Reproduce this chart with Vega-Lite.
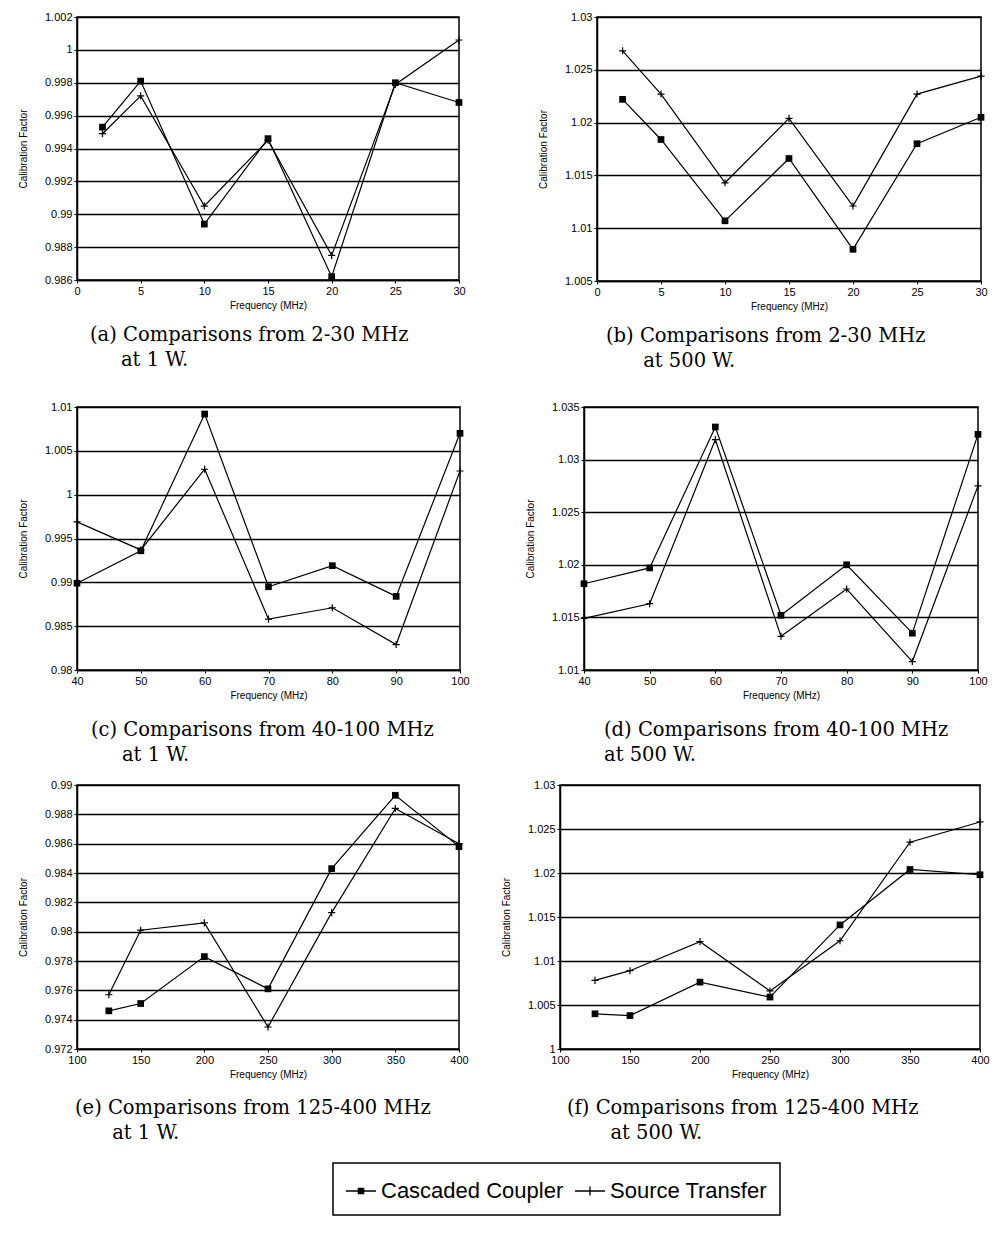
{
  "$schema": "https://vega.github.io/schema/vega-lite/v6.json",
  "background": "white",
  "padding": {"left": 17, "top": 10, "right": 5, "bottom": 5},
  "datasets": {
    "a": [
      {"f": 2, "v": 0.9953, "s": "Cascaded Coupler"}, {"f": 5, "v": 0.9981, "s": "Cascaded Coupler"}, {"f": 10, "v": 0.9894, "s": "Cascaded Coupler"}, {"f": 15, "v": 0.9946, "s": "Cascaded Coupler"}, {"f": 20, "v": 0.9862, "s": "Cascaded Coupler"}, {"f": 25, "v": 0.998, "s": "Cascaded Coupler"}, {"f": 30, "v": 0.9968, "s": "Cascaded Coupler"},
      {"f": 2, "v": 0.9949, "s": "Source Transfer"}, {"f": 5, "v": 0.9972, "s": "Source Transfer"}, {"f": 10, "v": 0.9905, "s": "Source Transfer"}, {"f": 15, "v": 0.9945, "s": "Source Transfer"}, {"f": 20, "v": 0.9875, "s": "Source Transfer"}, {"f": 25, "v": 0.9979, "s": "Source Transfer"}, {"f": 30, "v": 1.0006, "s": "Source Transfer"}
    ],
    "b": [
      {"f": 2, "v": 1.0222, "s": "Cascaded Coupler"}, {"f": 5, "v": 1.0184, "s": "Cascaded Coupler"}, {"f": 10, "v": 1.0107, "s": "Cascaded Coupler"}, {"f": 15, "v": 1.0166, "s": "Cascaded Coupler"}, {"f": 20, "v": 1.008, "s": "Cascaded Coupler"}, {"f": 25, "v": 1.018, "s": "Cascaded Coupler"}, {"f": 30, "v": 1.0205, "s": "Cascaded Coupler"},
      {"f": 2, "v": 1.0268, "s": "Source Transfer"}, {"f": 5, "v": 1.0227, "s": "Source Transfer"}, {"f": 10, "v": 1.0143, "s": "Source Transfer"}, {"f": 15, "v": 1.0204, "s": "Source Transfer"}, {"f": 20, "v": 1.0121, "s": "Source Transfer"}, {"f": 25, "v": 1.0227, "s": "Source Transfer"}, {"f": 30, "v": 1.0244, "s": "Source Transfer"}
    ],
    "c": [
      {"f": 40, "v": 0.9899, "s": "Cascaded Coupler"}, {"f": 50, "v": 0.9936, "s": "Cascaded Coupler"}, {"f": 60, "v": 1.0092, "s": "Cascaded Coupler"}, {"f": 70, "v": 0.9895, "s": "Cascaded Coupler"}, {"f": 80, "v": 0.9919, "s": "Cascaded Coupler"}, {"f": 90, "v": 0.9884, "s": "Cascaded Coupler"}, {"f": 100, "v": 1.007, "s": "Cascaded Coupler"},
      {"f": 40, "v": 0.9969, "s": "Source Transfer"}, {"f": 50, "v": 0.9937, "s": "Source Transfer"}, {"f": 60, "v": 1.0029, "s": "Source Transfer"}, {"f": 70, "v": 0.9858, "s": "Source Transfer"}, {"f": 80, "v": 0.9871, "s": "Source Transfer"}, {"f": 90, "v": 0.9829, "s": "Source Transfer"}, {"f": 100, "v": 1.0027, "s": "Source Transfer"}
    ],
    "d": [
      {"f": 40, "v": 1.0182, "s": "Cascaded Coupler"}, {"f": 50, "v": 1.0197, "s": "Cascaded Coupler"}, {"f": 60, "v": 1.0331, "s": "Cascaded Coupler"}, {"f": 70, "v": 1.0152, "s": "Cascaded Coupler"}, {"f": 80, "v": 1.02, "s": "Cascaded Coupler"}, {"f": 90, "v": 1.0135, "s": "Cascaded Coupler"}, {"f": 100, "v": 1.0324, "s": "Cascaded Coupler"},
      {"f": 40, "v": 1.0149, "s": "Source Transfer"}, {"f": 50, "v": 1.0163, "s": "Source Transfer"}, {"f": 60, "v": 1.0319, "s": "Source Transfer"}, {"f": 70, "v": 1.0132, "s": "Source Transfer"}, {"f": 80, "v": 1.0177, "s": "Source Transfer"}, {"f": 90, "v": 1.0108, "s": "Source Transfer"}, {"f": 100, "v": 1.0275, "s": "Source Transfer"}
    ],
    "e": [
      {"f": 125, "v": 0.9746, "s": "Cascaded Coupler"}, {"f": 150, "v": 0.9751, "s": "Cascaded Coupler"}, {"f": 200, "v": 0.9783, "s": "Cascaded Coupler"}, {"f": 250, "v": 0.9761, "s": "Cascaded Coupler"}, {"f": 300, "v": 0.9843, "s": "Cascaded Coupler"}, {"f": 350, "v": 0.9893, "s": "Cascaded Coupler"}, {"f": 400, "v": 0.9858, "s": "Cascaded Coupler"},
      {"f": 125, "v": 0.9757, "s": "Source Transfer"}, {"f": 150, "v": 0.9801, "s": "Source Transfer"}, {"f": 200, "v": 0.9806, "s": "Source Transfer"}, {"f": 250, "v": 0.9735, "s": "Source Transfer"}, {"f": 300, "v": 0.9813, "s": "Source Transfer"}, {"f": 350, "v": 0.9884, "s": "Source Transfer"}, {"f": 400, "v": 0.986, "s": "Source Transfer"}
    ],
    "f": [
      {"f": 125, "v": 1.004, "s": "Cascaded Coupler"}, {"f": 150, "v": 1.0038, "s": "Cascaded Coupler"}, {"f": 200, "v": 1.0076, "s": "Cascaded Coupler"}, {"f": 250, "v": 1.0059, "s": "Cascaded Coupler"}, {"f": 300, "v": 1.0141, "s": "Cascaded Coupler"}, {"f": 350, "v": 1.0204, "s": "Cascaded Coupler"}, {"f": 400, "v": 1.0198, "s": "Cascaded Coupler"},
      {"f": 125, "v": 1.0078, "s": "Source Transfer"}, {"f": 150, "v": 1.0089, "s": "Source Transfer"}, {"f": 200, "v": 1.0122, "s": "Source Transfer"}, {"f": 250, "v": 1.0066, "s": "Source Transfer"}, {"f": 300, "v": 1.0123, "s": "Source Transfer"}, {"f": 350, "v": 1.0235, "s": "Source Transfer"}, {"f": 400, "v": 1.0258, "s": "Source Transfer"}
    ]
  },
  "config": {
    "view": {"stroke": "black", "strokeWidth": 1.5},
    "axis": {
      "labelFont": "Liberation Sans", "labelFontSize": 11, "labelColor": "black", "labelFlush": false, "labelOverlap": false,
      "titleFont": "Liberation Sans", "titleFontSize": 10, "titleFontWeight": "normal", "titleColor": "black",
      "domainColor": "black", "domainWidth": 1.5, "tickColor": "black", "tickSize": 3, "tickWidth": 1, "labelPadding": 2,
      "gridColor": "black", "gridWidth": 1.5, "gridOpacity": 1
    },
    "axisX": {"grid": false, "titlePadding": 4},
    "axisY": {"grid": true, "titlePadding": 16},
    "title": {"font": "DejaVu Serif", "fontSize": 19.5, "fontWeight": "normal", "color": "black", "orient": "bottom", "anchor": "start", "frame": "group", "lineHeight": 25},
    "legend": {
      "orient": "none", "legendX": 256, "legendY": 1146, "direction": "horizontal", "title": null,
      "strokeColor": "black", "strokeWidth": 1.5, "padding": 13,
      "labelFont": "Liberation Sans", "labelFontSize": 22, "labelColor": "black", "labelLimit": 400, "labelOffset": 5,
      "symbolSize": 900, "symbolOpacity": 1, "symbolStrokeWidth": 0, "symbolFillColor": "black", "columnPadding": 11
    }
  },
  "resolve": {"scale": {"x": "independent", "y": "independent"}},
  "spacing": 28,
  "vconcat": [
    {
      "bounds": "flush", "spacing": 138,
      "resolve": {"scale": {"x": "independent", "y": "independent"}},
      "hconcat": [
        {
          "width": 382, "height": 263, "data": {"name": "a"},
          "title": {"text": ["(a) Comparisons from 2-30 MHz", "\u200b\u00a0\u00a0\u00a0\u00a0\u00a0at 1 W."], "dx": 13, "offset": 16},
          "encoding": {
            "x": {"field": "f", "type": "quantitative", "scale": {"domain": [0, 30], "nice": false, "zero": false}, "axis": {"values": [0, 5, 10, 15, 20, 25, 30], "title": "Frequency (MHz)"}},
            "y": {"field": "v", "type": "quantitative", "scale": {"domain": [0.986, 1.002], "nice": false, "zero": false}, "axis": {"values": [0.986, 0.988, 0.99, 0.992, 0.994, 0.996, 0.998, 1, 1.002], "labelExpr": "format(datum.value, '.4~f')", "title": "Calibration Factor"}}
          },
          "layer": [
            {"mark": {"type": "line", "color": "black", "strokeWidth": 1.2}, "encoding": {"detail": {"field": "s"}}},
            {"transform": [{"filter": "datum.s === 'Cascaded Coupler'"}], "mark": {"type": "point", "shape": "square", "filled": true, "color": "black", "size": 45, "opacity": 1}},
            {"transform": [{"filter": "datum.s === 'Source Transfer'"}], "mark": {"type": "point", "shape": "M-1,0H1M0,-1V1", "filled": false, "color": "black", "strokeWidth": 1.2, "size": 50, "opacity": 1}},
            {"mark": {"type": "point", "filled": true, "color": "black", "size": 45, "opacity": 0},
             "encoding": {"shape": {"field": "s", "type": "nominal", "scale": {"domain": ["Cascaded Coupler", "Source Transfer"], "range": ["M-1,-0.045H1V0.045H-1ZM-0.22,-0.22H0.22V0.22H-0.22Z", "M-1,-0.045H1V0.045H-1ZM-0.045,-0.3H0.045V0.3H-0.045Z"]}}}}
          ]
        },
        {
          "width": 384, "height": 264, "data": {"name": "b"},
          "title": {"text": ["(b) Comparisons from 2-30 MHz", "\u200b\u00a0\u00a0\u00a0\u00a0\u00a0\u00a0at 500 W."], "dx": 9, "offset": 16},
          "encoding": {
            "x": {"field": "f", "type": "quantitative", "scale": {"domain": [0, 30], "nice": false, "zero": false}, "axis": {"values": [0, 5, 10, 15, 20, 25, 30], "title": "Frequency (MHz)"}},
            "y": {"field": "v", "type": "quantitative", "scale": {"domain": [1.005, 1.03], "nice": false, "zero": false}, "axis": {"values": [1.005, 1.01, 1.015, 1.02, 1.025, 1.03], "labelExpr": "format(datum.value, '.4~f')", "title": "Calibration Factor"}}
          },
          "layer": [
            {"mark": {"type": "line", "color": "black", "strokeWidth": 1.2}, "encoding": {"detail": {"field": "s"}}},
            {"transform": [{"filter": "datum.s === 'Cascaded Coupler'"}], "mark": {"type": "point", "shape": "square", "filled": true, "color": "black", "size": 45, "opacity": 1}},
            {"transform": [{"filter": "datum.s === 'Source Transfer'"}], "mark": {"type": "point", "shape": "M-1,0H1M0,-1V1", "filled": false, "color": "black", "strokeWidth": 1.2, "size": 50, "opacity": 1}},
            {"mark": {"type": "point", "filled": true, "color": "black", "size": 45, "opacity": 0},
             "encoding": {"shape": {"field": "s", "type": "nominal", "scale": {"domain": ["Cascaded Coupler", "Source Transfer"], "range": ["M-1,-0.045H1V0.045H-1ZM-0.22,-0.22H0.22V0.22H-0.22Z", "M-1,-0.045H1V0.045H-1ZM-0.045,-0.3H0.045V0.3H-0.045Z"]}}}}
          ]
        }
      ]
    },
    {
      "spacing": 12,
      "resolve": {"scale": {"x": "independent", "y": "independent"}},
      "vconcat": [
        {
          "bounds": "flush", "spacing": 124,
          "resolve": {"scale": {"x": "independent", "y": "independent"}},
          "hconcat": [
            {
              "width": 383, "height": 263, "data": {"name": "c"},
              "title": {"text": ["(c) Comparisons from 40-100 MHz", "\u200b\u00a0\u00a0\u00a0\u00a0\u00a0at 1 W."], "dx": 14, "offset": 21},
              "encoding": {
                "x": {"field": "f", "type": "quantitative", "scale": {"domain": [40, 100], "nice": false, "zero": false}, "axis": {"values": [40, 50, 60, 70, 80, 90, 100], "title": "Frequency (MHz)"}},
                "y": {"field": "v", "type": "quantitative", "scale": {"domain": [0.98, 1.01], "nice": false, "zero": false}, "axis": {"values": [0.98, 0.985, 0.99, 0.995, 1, 1.005, 1.01], "labelExpr": "format(datum.value, '.4~f')", "title": "Calibration Factor"}}
              },
              "layer": [
                {"mark": {"type": "line", "color": "black", "strokeWidth": 1.2}, "encoding": {"detail": {"field": "s"}}},
                {"transform": [{"filter": "datum.s === 'Cascaded Coupler'"}], "mark": {"type": "point", "shape": "square", "filled": true, "color": "black", "size": 45, "opacity": 1}},
                {"transform": [{"filter": "datum.s === 'Source Transfer'"}], "mark": {"type": "point", "shape": "M-1,0H1M0,-1V1", "filled": false, "color": "black", "strokeWidth": 1.2, "size": 50, "opacity": 1}},
                {"mark": {"type": "point", "filled": true, "color": "black", "size": 45, "opacity": 0},
                 "encoding": {"shape": {"field": "s", "type": "nominal", "scale": {"domain": ["Cascaded Coupler", "Source Transfer"], "range": ["M-1,-0.045H1V0.045H-1ZM-0.22,-0.22H0.22V0.22H-0.22Z", "M-1,-0.045H1V0.045H-1ZM-0.045,-0.3H0.045V0.3H-0.045Z"]}}}}
              ]
            },
            {
              "width": 394, "height": 263, "data": {"name": "d"},
              "title": {"text": ["(d) Comparisons from 40-100 MHz", "at 500 W."], "dx": 20, "offset": 21},
              "encoding": {
                "x": {"field": "f", "type": "quantitative", "scale": {"domain": [40, 100], "nice": false, "zero": false}, "axis": {"values": [40, 50, 60, 70, 80, 90, 100], "title": "Frequency (MHz)"}},
                "y": {"field": "v", "type": "quantitative", "scale": {"domain": [1.01, 1.035], "nice": false, "zero": false}, "axis": {"values": [1.01, 1.015, 1.02, 1.025, 1.03, 1.035], "labelExpr": "format(datum.value, '.4~f')", "title": "Calibration Factor"}}
              },
              "layer": [
                {"mark": {"type": "line", "color": "black", "strokeWidth": 1.2}, "encoding": {"detail": {"field": "s"}}},
                {"transform": [{"filter": "datum.s === 'Cascaded Coupler'"}], "mark": {"type": "point", "shape": "square", "filled": true, "color": "black", "size": 45, "opacity": 1}},
                {"transform": [{"filter": "datum.s === 'Source Transfer'"}], "mark": {"type": "point", "shape": "M-1,0H1M0,-1V1", "filled": false, "color": "black", "strokeWidth": 1.2, "size": 50, "opacity": 1}},
                {"mark": {"type": "point", "filled": true, "color": "black", "size": 45, "opacity": 0},
                 "encoding": {"shape": {"field": "s", "type": "nominal", "scale": {"domain": ["Cascaded Coupler", "Source Transfer"], "range": ["M-1,-0.045H1V0.045H-1ZM-0.22,-0.22H0.22V0.22H-0.22Z", "M-1,-0.045H1V0.045H-1ZM-0.045,-0.3H0.045V0.3H-0.045Z"]}}}}
              ]
            }
          ]
        },
        {
          "bounds": "flush", "spacing": 101,
          "resolve": {"scale": {"x": "independent", "y": "independent"}},
          "hconcat": [
            {
              "width": 382, "height": 264, "data": {"name": "e"},
              "title": {"text": ["(e) Comparisons from 125-400 MHz", "\u200b\u00a0\u00a0\u00a0\u00a0\u00a0\u00a0at 1 W."], "dx": -2, "offset": 20},
              "encoding": {
                "x": {"field": "f", "type": "quantitative", "scale": {"domain": [100, 400], "nice": false, "zero": false}, "axis": {"values": [100, 150, 200, 250, 300, 350, 400], "title": "Frequency (MHz)"}},
                "y": {"field": "v", "type": "quantitative", "scale": {"domain": [0.972, 0.99], "nice": false, "zero": false}, "axis": {"values": [0.972, 0.974, 0.976, 0.978, 0.98, 0.982, 0.984, 0.986, 0.988, 0.99], "labelExpr": "format(datum.value, '.4~f')", "title": "Calibration Factor"}}
              },
              "layer": [
                {"mark": {"type": "line", "color": "black", "strokeWidth": 1.2}, "encoding": {"detail": {"field": "s"}}},
                {"transform": [{"filter": "datum.s === 'Cascaded Coupler'"}], "mark": {"type": "point", "shape": "square", "filled": true, "color": "black", "size": 45, "opacity": 1}},
                {"transform": [{"filter": "datum.s === 'Source Transfer'"}], "mark": {"type": "point", "shape": "M-1,0H1M0,-1V1", "filled": false, "color": "black", "strokeWidth": 1.2, "size": 50, "opacity": 1}},
                {"mark": {"type": "point", "filled": true, "color": "black", "size": 45, "opacity": 0},
                 "encoding": {"shape": {"field": "s", "type": "nominal", "scale": {"domain": ["Cascaded Coupler", "Source Transfer"], "range": ["M-1,-0.045H1V0.045H-1ZM-0.22,-0.22H0.22V0.22H-0.22Z", "M-1,-0.045H1V0.045H-1ZM-0.045,-0.3H0.045V0.3H-0.045Z"]}}}}
              ]
            },
            {
              "width": 420, "height": 264, "data": {"name": "f"},
              "title": {"text": ["(f) Comparisons from 125-400 MHz", "\u200b\u00a0\u00a0\u00a0\u00a0\u00a0\u00a0\u00a0at 500 W."], "dx": 7, "offset": 20},
              "encoding": {
                "x": {"field": "f", "type": "quantitative", "scale": {"domain": [100, 400], "nice": false, "zero": false}, "axis": {"values": [100, 150, 200, 250, 300, 350, 400], "title": "Frequency (MHz)"}},
                "y": {"field": "v", "type": "quantitative", "scale": {"domain": [1, 1.03], "nice": false, "zero": false}, "axis": {"values": [1, 1.005, 1.01, 1.015, 1.02, 1.025, 1.03], "labelExpr": "format(datum.value, '.4~f')", "title": "Calibration Factor"}}
              },
              "layer": [
                {"mark": {"type": "line", "color": "black", "strokeWidth": 1.2}, "encoding": {"detail": {"field": "s"}}},
                {"transform": [{"filter": "datum.s === 'Cascaded Coupler'"}], "mark": {"type": "point", "shape": "square", "filled": true, "color": "black", "size": 45, "opacity": 1}},
                {"transform": [{"filter": "datum.s === 'Source Transfer'"}], "mark": {"type": "point", "shape": "M-1,0H1M0,-1V1", "filled": false, "color": "black", "strokeWidth": 1.2, "size": 50, "opacity": 1}},
                {"mark": {"type": "point", "filled": true, "color": "black", "size": 45, "opacity": 0},
                 "encoding": {"shape": {"field": "s", "type": "nominal", "scale": {"domain": ["Cascaded Coupler", "Source Transfer"], "range": ["M-1,-0.045H1V0.045H-1ZM-0.22,-0.22H0.22V0.22H-0.22Z", "M-1,-0.045H1V0.045H-1ZM-0.045,-0.3H0.045V0.3H-0.045Z"]}}}}
              ]
            }
          ]
        }
      ]
    }
  ]
}
